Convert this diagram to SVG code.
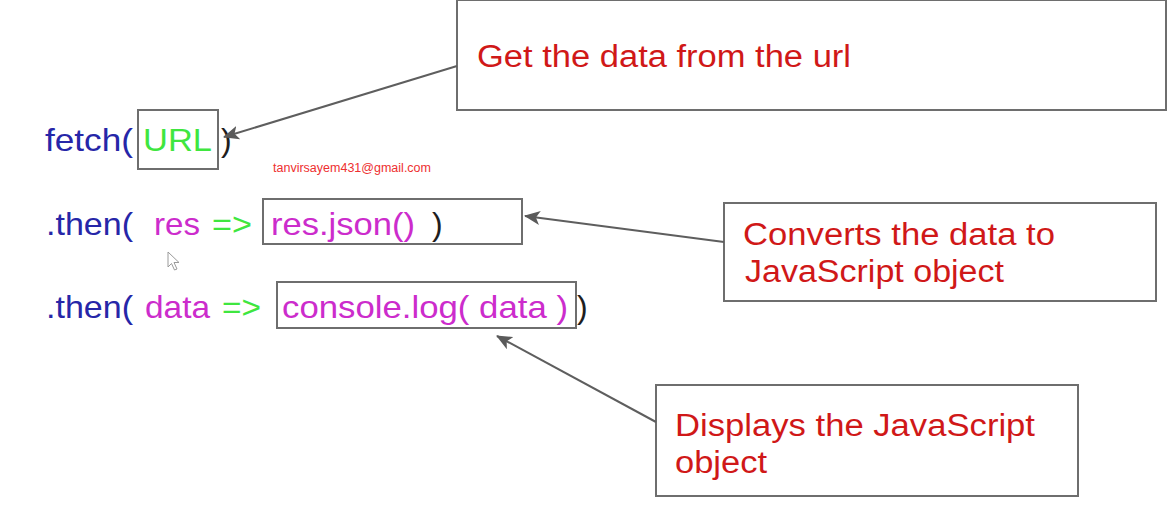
<svg xmlns="http://www.w3.org/2000/svg" width="1173" height="514" viewBox="0 0 1173 514">
<style>
.box{fill:none;stroke:#6e6e6e;stroke-width:2}
.note{font-family:"Liberation Sans",Arial,sans-serif;font-size:31px;fill:#d01818}
.code{font-family:"Liberation Sans",Arial,sans-serif;font-size:32px}
.blue{fill:#2626a8}
.mag{fill:#cc2ccc}
.grn{fill:#3fe63f}
.blk{fill:#1e1e1e}
.conn{stroke:#5e5e5e;stroke-width:2;fill:none}
</style>
<defs>
<marker id="ah" markerUnits="userSpaceOnUse" markerWidth="18" markerHeight="14" refX="15" refY="7" orient="auto">
<path d="M0,0 L16,7 L0,14 L4,7 Z" fill="#5a5a5a"/>
</marker>
</defs>
<rect width="1173" height="514" fill="#ffffff"/>

<g id="code-fetch">
<text class="code blue" x="45" y="151" textLength="88" lengthAdjust="spacingAndGlyphs">fetch(</text>
<rect class="box" x="138" y="110" width="80" height="59"/>
<text class="code grn" x="143" y="151" textLength="69" lengthAdjust="spacingAndGlyphs">URL</text>
<text class="code blk" x="221" y="151">)</text>
</g>

<g id="email">
<text x="273" y="172" font-family="'Liberation Sans',Arial,sans-serif" font-size="12.5" fill="#ee3030" textLength="158" lengthAdjust="spacingAndGlyphs">tanvirsayem431@gmail.com</text>
</g>

<g id="code-then1">
<text class="code blue" x="46" y="235" textLength="87" lengthAdjust="spacingAndGlyphs">.then(</text>
<text class="code mag" x="154" y="235" textLength="46" lengthAdjust="spacingAndGlyphs">res</text>
<text class="code grn" x="212" y="235" textLength="40" lengthAdjust="spacingAndGlyphs">=&gt;</text>
<rect class="box" x="263" y="199" width="259" height="45"/>
<text class="code mag" x="271" y="235" textLength="144" lengthAdjust="spacingAndGlyphs">res.json()</text>
<text class="code blk" x="432" y="235">)</text>
</g>

<g id="code-then2">
<text class="code blue" x="46" y="318" textLength="87" lengthAdjust="spacingAndGlyphs">.then(</text>
<text class="code mag" x="145" y="318" textLength="65" lengthAdjust="spacingAndGlyphs">data</text>
<text class="code grn" x="222" y="318" textLength="39" lengthAdjust="spacingAndGlyphs">=&gt;</text>
<rect class="box" x="277" y="282" width="299" height="46"/>
<text class="code mag" x="282" y="318" textLength="286" lengthAdjust="spacingAndGlyphs">console.log( data )</text>
<text class="code blk" x="577" y="318">)</text>
</g>

<g id="cursor">
<path d="M168,252 L168,267 L171.5,263.5 L174.5,270 L177,269 L174,262.5 L179,262.5 Z" fill="#ffffff" stroke="#9a9a9a" stroke-width="1"/>
</g>

<g id="note-url">
<rect class="box" x="457" y="0" width="709" height="110"/>
<text class="note" x="477" y="67" textLength="374" lengthAdjust="spacingAndGlyphs">Get the data from the url</text>
</g>

<g id="note-json">
<rect class="box" x="724" y="203" width="432" height="98"/>
<text class="note" x="743" y="245" textLength="312" lengthAdjust="spacingAndGlyphs">Converts the data to</text>
<text class="note" x="745" y="282" textLength="259" lengthAdjust="spacingAndGlyphs">JavaScript object</text>
</g>

<g id="note-log">
<rect class="box" x="656" y="385" width="422" height="111"/>
<text class="note" x="675" y="436" textLength="360" lengthAdjust="spacingAndGlyphs">Displays the JavaScript</text>
<text class="note" x="675" y="473" textLength="92" lengthAdjust="spacingAndGlyphs">object</text>
</g>

<g id="connectors">
<line class="conn" x1="457" y1="66" x2="224" y2="137" marker-end="url(#ah)"/>
<line class="conn" x1="724" y1="242" x2="525" y2="216" marker-end="url(#ah)"/>
<line class="conn" x1="656" y1="422" x2="497" y2="336" marker-end="url(#ah)"/>
</g>
</svg>
